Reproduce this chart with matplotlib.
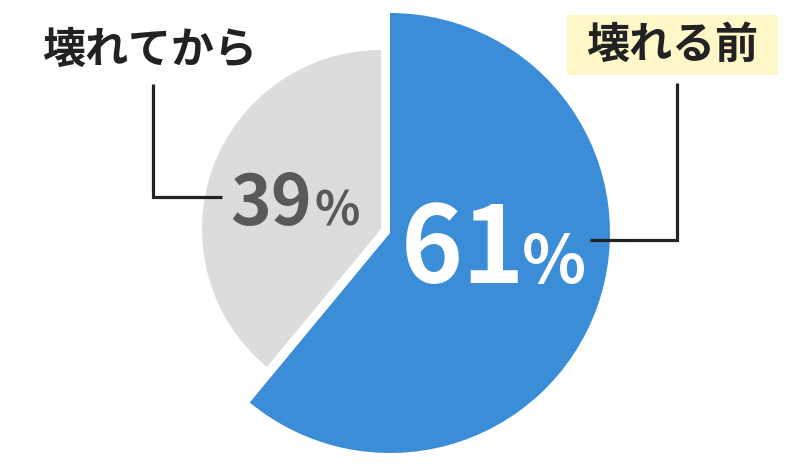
import matplotlib.pyplot as plt

plt.rcParams['font.family'] = ['Noto Sans CJK JP', 'DejaVu Sans']

# data
labels = ["壊れる前", "壊れてから"]
values = [61, 39]
pct_text = ["61", "39"]
colors = ["#3A8DD6", "#DCDCDC"]

W, H = 800, 466
fig = plt.figure(figsize=(W / 100, H / 100), dpi=100)
ax = fig.add_axes([0, 0, 1, 1])

# blue slice (before breaking) - full radius
ax.pie(values, colors=[colors[0], "none"], radius=220, center=(390, H - 233),
       startangle=90, counterclock=False, wedgeprops=dict(linewidth=0))
# gray slice (after breaking) - smaller and pulled out a bit
ax.pie(values, colors=["none", colors[1]], radius=179, center=(381, H - 229),
       startangle=90, counterclock=False, wedgeprops=dict(linewidth=0))

ax.set_xlim(0, W)
ax.set_ylim(0, H)
ax.set_aspect("equal")
ax.axis("off")

# percentages
ax.text(401, H - 283, pct_text[0], color="white", fontsize=76, fontweight="bold",
        ha="left", va="baseline")
ax.text(522, H - 283, "%", color="white", fontsize=48, fontweight="bold",
        ha="left", va="baseline")
ax.text(230, H - 225, pct_text[1], color="#595959", fontsize=50, fontweight="bold",
        ha="left", va="baseline")
ax.text(314, H - 225, "%", color="#595959", fontsize=34, fontweight="bold",
        ha="left", va="baseline")

# leader lines
lc = "#222222"
ax.plot([153, 153, 222], [H - 84, H - 197, H - 197], color=lc, lw=2.3,
        solid_joinstyle="miter", solid_capstyle="butt")
ax.plot([677, 677, 590], [H - 83, H - 240, H - 240], color=lc, lw=2.3,
        solid_joinstyle="miter", solid_capstyle="butt")

# category labels
ax.text(150, H - 50, labels[1], color="#222222", fontsize=31, fontweight="bold",
        ha="center", va="center")
ax.add_patch(plt.Rectangle((567, H - 75), 211, 60, color="#FFF7C8", lw=0))
ax.text(672, H - 45, labels[0], color="#222222", fontsize=31, fontweight="bold",
        ha="center", va="center")

fig.savefig("out.png", dpi=100)
